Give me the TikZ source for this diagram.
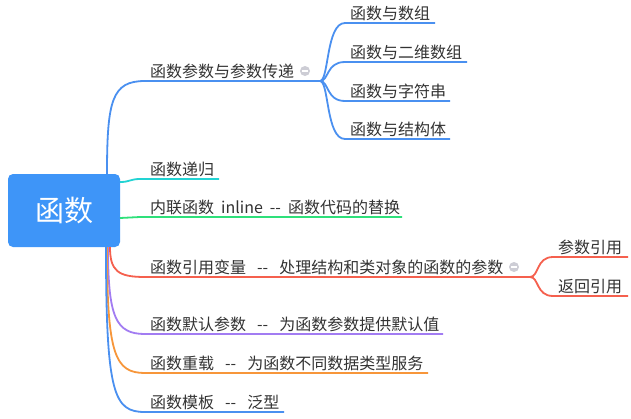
\documentclass[tikz,border=0pt]{standalone}
\usepackage{fontspec}
\setmainfont{Noto Sans CJK SC}
\definecolor{cblue}{HTML}{4A90F0}
\definecolor{croot}{HTML}{3E95F8}
\definecolor{ccyan}{HTML}{22D3D3}
\definecolor{cgreen}{HTML}{2EE07A}
\definecolor{cred}{HTML}{F5604E}
\definecolor{cpurple}{HTML}{A27CF2}
\definecolor{corange}{HTML}{F7963A}
\definecolor{cicon}{HTML}{CDCDD5}
\definecolor{ctext}{HTML}{333333}
\newcommand\gapW{\hspace{11pt}}
\newcommand\gapN{\hspace{7pt}}
\begin{document}
\begin{tikzpicture}[x=1pt,y=-1pt,
  br/.style={line width=1.8pt},
  lbl/.style={anchor=base west, inner sep=0pt, text=ctext, font=\fontsize{16}{18}\selectfont},
  icon/.style={circle, fill=cicon, inner sep=0pt, minimum size=10pt,
    path picture={\draw[white,line width=1.4pt] ([xshift=-2.8pt]path picture bounding box.center) -- ([xshift=2.8pt]path picture bounding box.center);}}]
\useasboundingbox (0,0) rectangle (631,418);
\fill[white] (0,0) rectangle (631,418);

% root
\node[fill=croot, rounded corners=5pt, minimum width=112pt, minimum height=73pt, inner sep=0pt,
  text=white, font=\fontsize{29}{31}\selectfont] (root) at (64,210.5) {函数};

% branch 1
\coordinate (a0) at (107,174);
\coordinate (a1) at (145,81);
\coordinate (a2) at (320,81);
\draw[cblue,br] (a0) .. controls (107,100) and (112,81) .. (a1) -- (a2);
\node[lbl] (t1) at (150,77) {函数参数与参数传递};
\node[icon] (i1) at (305,71) {};

\coordinate (b1) at (345,23);  \coordinate (b1e) at (435,23);
\coordinate (b2) at (345,62);  \coordinate (b2e) at (467,62);
\coordinate (b3) at (345,101); \coordinate (b3e) at (450,101);
\coordinate (b4) at (345,139); \coordinate (b4e) at (450,139);
\draw[cblue,br] (a2) .. controls (329,81) and (326,23) .. (b1) -- (b1e);
\draw[cblue,br] (a2) .. controls (329,81) and (326,62) .. (b2) -- (b2e);
\draw[cblue,br] (a2) .. controls (329,81) and (326,101) .. (b3) -- (b3e);
\draw[cblue,br] (a2) .. controls (329,81) and (326,139) .. (b4) -- (b4e);
\node[lbl] (s1) at (350,19) {函数与数组};
\node[lbl] (s2) at (350,58) {函数与二维数组};
\node[lbl] (s3) at (350,97) {函数与字符串};
\node[lbl] (s4) at (350,135) {函数与结构体};

% branch 2
\coordinate (c0) at (120,182);
\coordinate (c1) at (140,179);
\coordinate (c2) at (219,179);
\draw[ccyan,br] (c0) .. controls (130,182) and (130,179) .. (c1) -- (c2);
\node[lbl] (t2) at (150,175) {函数递归};

% branch 3
\coordinate (d0) at (120,218);
\coordinate (d1) at (140,217);
\coordinate (d2) at (402,217);
\draw[cgreen,br] (d0) .. controls (130,218) and (130,217) .. (d1) -- (d2);
\node[lbl] (t3) at (150,213) {内联函数\gapN inline\gapN -{}-\gapN 函数代码的替换};

% branch 4
\coordinate (e0) at (110,247);
\coordinate (e1) at (145,277);
\coordinate (e2) at (530,277);
\draw[cred,br] (e0) .. controls (110,271) and (118,277) .. (e1) -- (e2);
\node[lbl] (t4) at (150,273) {函数引用变量\gapW-{}-\gapW 处理结构和类对象的函数的参数};
\node[icon] (i4) at (514,267) {};
\coordinate (f1) at (553,257); \coordinate (f1e) at (628,257);
\coordinate (f2) at (553,296); \coordinate (f2e) at (628,296);
\draw[cred,br] (e2) .. controls (539,277) and (536,257) .. (f1) -- (f1e);
\draw[cred,br] (e2) .. controls (539,277) and (536,296) .. (f2) -- (f2e);
\node[lbl] (u1) at (558,253) {参数引用};
\node[lbl] (u2) at (558,292) {返回引用};

% branch 5
\coordinate (g0) at (108,247);
\coordinate (g1) at (145,334);
\coordinate (g2) at (443,334);
\draw[cpurple,br] (g0) .. controls (108,318) and (116,334) .. (g1) -- (g2);
\node[lbl] (t5) at (150,330) {函数默认参数\gapW-{}-\gapW 为函数参数提供默认值};

% branch 6
\coordinate (h0) at (107,247);
\coordinate (h1) at (145,373);
\coordinate (h2) at (428,373);
\draw[corange,br] (h0) .. controls (107,355) and (115,373) .. (h1) -- (h2);
\node[lbl] (t6) at (150,369) {函数重载\gapW-{}-\gapW 为函数不同数据类型服务};

% branch 7
\coordinate (k0) at (106,247);
\coordinate (k1) at (145,412);
\coordinate (k2) at (284,412);
\draw[cblue,br] (k0) .. controls (106,395) and (114,412) .. (k1) -- (k2);
\node[lbl] (t7) at (150,408) {函数模板\gapW-{}-\gapW 泛型};
\end{tikzpicture}
\end{document}
